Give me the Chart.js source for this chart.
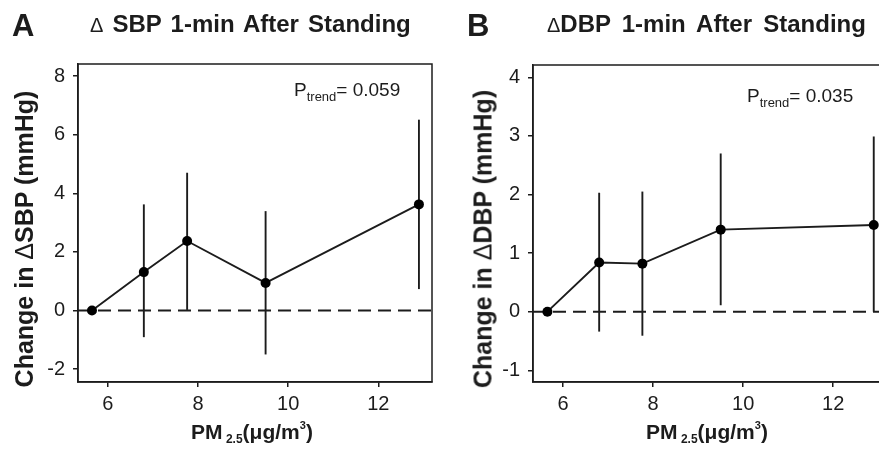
<!DOCTYPE html>
<html><head><meta charset="utf-8">
<script src="https://cdn.jsdelivr.net/npm/chart.js@4.4.1/dist/chart.umd.min.js"></script>
<style>
html,body{margin:0;padding:0;width:879px;height:456px;overflow:hidden;background:#fff;}
body{position:relative;font-family:"Liberation Sans",Arial,Helvetica,sans-serif;color:#1c1c1c;}
.t{position:absolute;white-space:pre;line-height:1;}
.letter{font-size:31px;font-weight:bold;}
.title{font-size:24px;font-weight:bold;word-spacing:2.5px;}
.title .d{font-weight:normal;font-size:20px;}
.ytitle{font-size:25px;font-weight:bold;transform:translate(-50%,-50%) rotate(-90deg);}
.ytitle .d{font-weight:normal;}
.xtitle{font-size:21px;font-weight:bold;transform:translateX(-50%);}
.xtitle sub{font-size:12px;vertical-align:-4px;}
.xtitle sup{font-size:11px;vertical-align:10px;}
.ptrend{font-size:19px;}
.ptrend sub{font-size:13px;vertical-align:-5px;}
</style></head><body>
<div style="position:absolute;left:0;top:0;width:440px;height:456px"><canvas id="cA" width="440" height="456"></canvas></div>
<div style="position:absolute;left:440px;top:0;width:450px;height:456px"><canvas id="cB" width="450" height="456"></canvas></div>

<div class="t letter" style="left:12px;top:10px">A</div>
<div class="t letter" style="left:467px;top:10px">B</div>
<div class="t title" style="left:90px;top:12px"><span class="d">Δ</span> SBP 1-min After Standing</div>
<div class="t title" style="left:547px;top:12px;word-spacing:4.5px"><span class="d">Δ</span>DBP 1-min After Standing</div>
<div class="t ytitle" style="left:24px;top:239px">Change in <span class="d">Δ</span>SBP (mmHg)</div>
<div class="t ytitle" style="left:483px;top:239px">Change in <span class="d">Δ</span>DBP (mmHg)</div>
<div class="t xtitle" style="left:252px;top:420px">PM<sub> 2.5</sub>(μg/m<sup>3</sup>)</div>
<div class="t xtitle" style="left:707px;top:420px">PM<sub> 2.5</sub>(μg/m<sup>3</sup>)</div>
<div class="t ptrend" style="left:294px;top:80px">P<sub>trend</sub>= 0.059</div>
<div class="t ptrend" style="left:747px;top:86px">P<sub>trend</sub>= 0.035</div>

<script>
// ---- data ----
const pmLevels = [5.65, 6.80, 7.76, 9.50, 12.90];
const sbpEst  = [0, 1.31, 2.37, 0.94, 3.62];
const sbpLow  = [0, -0.91, 0.02, -1.50, 0.73];
const sbpHigh = [0, 3.62, 4.70, 3.39, 6.51];
const dbpEst  = [0, 0.84, 0.82, 1.40, 1.48];
const dbpLow  = [0, -0.34, -0.41, 0.11, 0.00];
const dbpHigh = [0, 2.03, 2.05, 2.70, 2.99];
const xTicks   = [6, 8, 10, 12];
const sbpTicks = [-2, 0, 2, 4, 6, 8];
const dbpTicks = [-1, 0, 1, 2, 3, 4];

const INK = '#1c1c1c';
const boxPlugin = {
  id: 'box',
  beforeDatasetsDraw(chart) {
    const {ctx, chartArea: a} = chart;
    ctx.save();
    ctx.strokeStyle = INK; ctx.lineWidth = 1.5;
    ctx.strokeRect(a.left, a.top, a.right - a.left, a.bottom - a.top);
    ctx.restore();
  }
};

function makeChart(id, o) {
  const datasets = [];
  datasets.push({
    data: pmLevels.map((x, i) => ({x, y: o.est[i]})),
    borderColor: INK, borderWidth: 1.9, tension: 0,
    pointRadius: 5, pointBackgroundColor: '#000', pointBorderWidth: 0,
    clip: false
  });
  pmLevels.forEach((x, i) => {
    if (o.low[i] === o.high[i]) return;
    datasets.push({
      data: [{x, y: o.low[i]}, {x, y: o.high[i]}],
      borderColor: INK, borderWidth: 1.9, pointRadius: 0
    });
  });
  datasets.push({
    data: [{x: o.xMin, y: 0}, {x: o.xMax, y: 0}],
    borderColor: INK, borderWidth: 1.9, borderDash: [13, 7], pointRadius: 0
  });
  const tickFont = {family: '"Liberation Sans", Arial, sans-serif', size: 20};
  const grid = {drawOnChartArea: false, drawTicks: true, tickLength: 5, color: INK, lineWidth: 1.5};
  const border = {display: true, color: INK, width: 1.5};
  return new Chart(document.getElementById(id), {
    type: 'line',
    data: {datasets},
    options: {
      responsive: false, animation: false, devicePixelRatio: 1,
      layout: {padding: {top: o.padTop, right: o.padRight, left: 0, bottom: 0}},
      plugins: {legend: {display: false}, tooltip: {enabled: false}, title: {display: false}},
      scales: {
        x: {
          type: 'linear', min: o.xMin, max: o.xMax,
          afterBuildTicks: s => { s.ticks = xTicks.map(v => ({value: v})); },
          afterFit: s => { s.height = 74; },
          ticks: {font: tickFont, color: INK, padding: 5, maxRotation: 0},
          grid, border
        },
        y: {
          type: 'linear', min: o.yMin, max: o.yMax,
          afterBuildTicks: s => { s.ticks = o.yTicks.map(v => ({value: v})); },
          afterFit: s => { s.width = o.yWidth; },
          ticks: {font: tickFont, color: INK, padding: 8},
          grid, border
        }
      }
    },
    plugins: [boxPlugin]
  });
}

makeChart('cA', {est: sbpEst, low: sbpLow, high: sbpHigh, yTicks: sbpTicks,
  xMin: 5.34, xMax: 13.19, yMin: -2.44, yMax: 8.41, yWidth: 78, padTop: 64, padRight: 8});
makeChart('cB', {est: dbpEst, low: dbpLow, high: dbpHigh, yTicks: dbpTicks,
  xMin: 5.33, xMax: 13.15, yMin: -1.20, yMax: 4.21, yWidth: 93, padTop: 65, padRight: 5});
</script>
</body></html>
